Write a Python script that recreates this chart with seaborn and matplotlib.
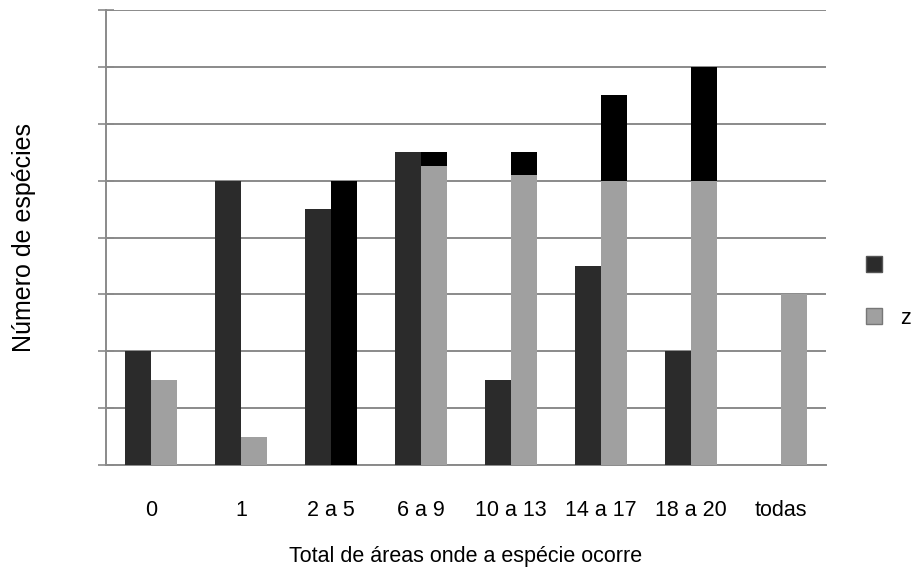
import matplotlib
matplotlib.use("Agg")
import matplotlib.pyplot as plt
from matplotlib.patches import Rectangle
import seaborn as sns
import pandas as pd

# Categories: total number of areas where the species occurs
categorias = ["0", "1", "2 a 5", "6 a 9", "10 a 13", "14 a 17", "18 a 20", "todas"]
# First series (dark bars, no legend text)
serie_escura = [2, 5, 4.5, 5.5, 1.5, 3.5, 2, 0]
# Second series "z" (light bars)
serie_z = [1.5, 0.5, 5, 5.5, 5.5, 6.5, 7, 3]
# Height up to which the "z" bars keep their grey fill; above it they render black
serie_z_cinza = [1.5, 0.5, 0, 5.25, 5.1, 5, 5, 3]
nomes_series = ["", "z"]

escuro = "#2b2b2b"
cinza = "#a0a0a0"
preto = "#000000"
grade = "#8a8a8a"

sns.set_theme(style="white")
plt.rcParams["font.family"] = ["Liberation Sans", "DejaVu Sans"]
plt.rcParams["text.color"] = "black"
plt.rcParams["axes.labelcolor"] = "black"
plt.rcParams["xtick.labelcolor"] = "black"

def tabela(valores_z):
    return pd.DataFrame({
        "categoria": categorias * 2,
        "valor": serie_escura + valores_z,
        "serie": [nomes_series[0]] * len(categorias) + [nomes_series[1]] * len(categorias),
    })

fig = plt.figure(figsize=(9.17, 5.72), dpi=100)
ax = fig.add_axes([106 / 917, 1 - 465 / 572, 720 / 917, 455 / 572])

# full-height "z" bars in black, then the grey part on top of them
sns.barplot(data=tabela(serie_z), x="categoria", y="valor", hue="serie",
            hue_order=nomes_series, order=categorias,
            palette={nomes_series[0]: escuro, nomes_series[1]: preto},
            width=0.58, gap=0.0, saturation=1, linewidth=0, legend=False, ax=ax, zorder=3)
sns.barplot(data=tabela(serie_z_cinza), x="categoria", y="valor", hue="serie",
            hue_order=nomes_series, order=categorias,
            palette={nomes_series[0]: escuro, nomes_series[1]: cinza},
            width=0.58, gap=0.0, saturation=1, linewidth=0, legend=False, ax=ax, zorder=3)

ax.set_xlim(-0.5, len(categorias) - 0.5)
ax.set_ylim(0, 8)
ax.set_yticks(range(0, 9))
ax.set_yticklabels([])
ax.yaxis.grid(True, color=grade, linewidth=1.4, zorder=0)
ax.set_axisbelow(True)

# category separators as ticks on the x axis
ax.set_xticks([i - 0.5 for i in range(len(categorias) + 1)], minor=False)
ax.set_xticklabels([])
ax.set_xticks(range(len(categorias)), minor=True)
ax.set_xticklabels(categorias, minor=True, fontsize=15.5, color="black")
ax.tick_params(axis="x", which="major", direction="out", length=7, width=1.2, color=grade)
ax.tick_params(axis="x", which="minor", length=0, pad=25)
ax.tick_params(axis="y", which="major", direction="inout", length=12, width=1.2, color=grade, left=True)

for lado in ["top", "right"]:
    ax.spines[lado].set_visible(False)
for lado in ["left", "bottom"]:
    ax.spines[lado].set_color(grade)
    ax.spines[lado].set_linewidth(1.4)

ax.set_xlabel("Total de áreas onde a espécie ocorre", fontsize=15.5, labelpad=18, color="black")
ax.set_ylabel("Número de espécies", fontsize=18, labelpad=41, color="black")

handles = [Rectangle((0, 0), 1, 1, facecolor=escuro, edgecolor="#555555"),
           Rectangle((0, 0), 1, 1, facecolor=cinza, edgecolor="#777777")]
fig.legend(handles, nomes_series, loc="center left", bbox_to_anchor=(866 / 917, 1 - 292 / 572),
           frameon=False, borderpad=0, borderaxespad=0,
           handlelength=0.75, handleheight=0.75, labelspacing=1.45,
           handletextpad=0.85, prop={"size": 15.5}, labelcolor="black")

fig.savefig("out.png", dpi=100)
